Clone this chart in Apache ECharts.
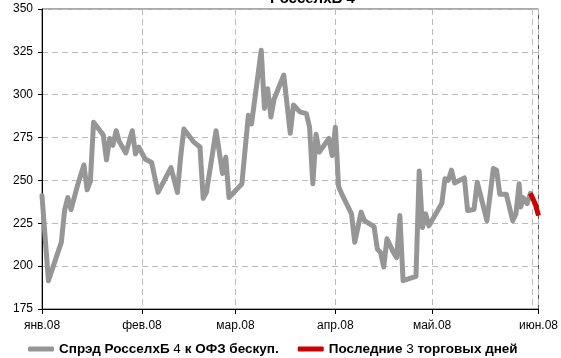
<!DOCTYPE html>
<html>
<head>
<meta charset="utf-8">
<script src="https://cdn.jsdelivr.net/npm/echarts@6/dist/echarts.min.js"></script>
<style>
html,body{margin:0;padding:0;background:#fff;}
#chart{width:561px;height:358px;}
</style>
</head>
<body>
<div id="chart"></div>
<script>
const titleText = 'РосселхБ 4';
const seriesNames = ['Спрэд РосселхБ 4 к ОФЗ бескуп.', 'Последние 3 торговых дней'];
const monthLabels = ['янв.08','фев.08','мар.08','апр.08','май.08','июн.08'];
const yTicks = [175, 200, 225, 250, 275, 300, 325, 350];

const spreadDates = [
'2008-01-01','2008-01-03','2008-01-07','2008-01-08','2008-01-09','2008-01-10','2008-01-12','2008-01-14','2008-01-15','2008-01-16',
'2008-01-17','2008-01-20','2008-01-21','2008-01-22','2008-01-23','2008-01-24','2008-01-25','2008-01-27','2008-01-29','2008-01-30',
'2008-01-31','2008-02-02','2008-02-04','2008-02-06','2008-02-10','2008-02-12','2008-02-13','2008-02-14','2008-02-17','2008-02-19',
'2008-02-20','2008-02-21','2008-02-24','2008-02-26','2008-02-27','2008-02-28','2008-03-03','2008-03-05','2008-03-06','2008-03-09',
'2008-03-10','2008-03-11','2008-03-12','2008-03-13','2008-03-16','2008-03-18','2008-03-19','2008-03-21','2008-03-23','2008-03-24',
'2008-03-25','2008-03-26','2008-03-27','2008-03-30','2008-03-31','2008-04-01','2008-04-02','2008-04-03','2008-04-06','2008-04-07',
'2008-04-09','2008-04-10','2008-04-13','2008-04-14','2008-04-15','2008-04-16','2008-04-17','2008-04-19','2008-04-20','2008-04-21',
'2008-04-22','2008-04-26','2008-04-27','2008-04-28','2008-04-29','2008-04-30','2008-05-04','2008-05-05','2008-05-06','2008-05-07',
'2008-05-08','2008-05-11','2008-05-12','2008-05-14','2008-05-15','2008-05-18','2008-05-20','2008-05-21','2008-05-22','2008-05-24',
'2008-05-26','2008-05-27','2008-05-28','2008-05-28 12:00','2008-05-29 06:00','2008-05-30 12:00','2008-05-31 12:00'
];
const spreadValues = [
241,191.5,214,232.5,240,233,247,259,244.5,249.5,
284,276.5,262,274.5,270.5,279,272.5,266,279,265.5,
269.5,262.5,260.5,243,257.5,243,263.5,280,272.5,269.5,
239.5,243,279,254,263.5,240,248,288,283,326,
292,303.5,287,297.5,311.5,277.5,294,290,289,281,
248,277,266.5,274.5,264.5,281,246.5,242,230.5,214,
231.5,226.5,223,210,208,199.5,216,208,205,229.5,
191.5,194,255.5,222.5,230.5,223.5,236.5,251,250,256,
248.5,251.5,232.5,233,249,226.5,257,256,242,242,
226.5,230.5,248,234.5,240,236.5,242.5
];
const lastDates = ['2008-05-31 12:00','2008-06-02','2008-06-03'];
const lastValues = [242.5, 236.3, 229.5];

const FONT = 'Liberation Sans, Arial, sans-serif';
const toPairs = (d, v) => d.map((x, i) => [x, v[i]]);

const chart = echarts.init(document.getElementById('chart'), null, {renderer: 'canvas'});
chart.setOption({
  animation: false,
  backgroundColor: '#fff',
  title: {
    text: titleText,
    left: 270,
    top: -9,
    padding: 0,
    textStyle: {fontFamily: FONT, fontSize: 15, fontWeight: 'bold', color: '#000'}
  },
  legend: {
    left: 28,
    top: 342,
    padding: 0,
    itemWidth: 26,
    itemHeight: 5,
    itemGap: 19,
    icon: 'roundRect',
    data: seriesNames,
    formatter: function (name) {
      if (name === seriesNames[0]) return '{b|Спрэд РосселхБ }{n|4}{b| к ОФЗ бескуп.}';
      return '{b|Последние }{n|3}{b| торговых дней}';
    },
    textStyle: {
      fontFamily: FONT, fontSize: 13.5, color: '#000',
      rich: {
        b: {fontFamily: FONT, fontSize: 13.5, fontWeight: 'bold', color: '#000'},
        n: {fontFamily: FONT, fontSize: 13.5, fontWeight: 'normal', color: '#000'}
      }
    }
  },
  grid: {
    left: 42, right: 12, top: 9, height: 300,
    show: true, borderColor: '#555', borderWidth: 1, backgroundColor: '#fff'
  },
  xAxis: {
    type: 'time',
    min: '2008-01-01',
    max: '2008-06-03',
    minInterval: 28 * 86400000,
    maxInterval: 31 * 86400000,
    axisLine: {show: true, lineStyle: {color: '#000', width: 1}},
    axisTick: {show: true, length: 5, lineStyle: {color: '#000'}},
    axisLabel: {
      show: true, margin: 11, color: '#000', fontFamily: FONT, fontSize: 12,
      showMinLabel: true, showMaxLabel: true, hideOverlap: false,
      formatter: function (val) { return monthLabels[new Date(val).getMonth()]; }
    },
    splitLine: {show: true, lineStyle: {color: '#BBBBBB', type: [6, 4], width: 1}}
  },
  yAxis: {
    type: 'value',
    min: yTicks[0],
    max: yTicks[yTicks.length - 1],
    interval: 25,
    axisLine: {show: true, lineStyle: {color: '#000', width: 1}},
    axisTick: {show: true, length: 4, lineStyle: {color: '#000'}},
    axisLabel: {color: '#000', fontFamily: FONT, fontSize: 12, margin: 9},
    splitLine: {show: true, lineStyle: {color: '#BBBBBB', type: [6, 4], width: 1}}
  },
  series: [
    {
      name: seriesNames[0],
      type: 'line',
      data: toPairs(spreadDates, spreadValues),
      showSymbol: false,
      symbol: 'none',
      color: '#969696',
      lineStyle: {color: '#969696', width: 5, cap: 'round', join: 'round'},
      z: 2
    },
    {
      name: seriesNames[1],
      type: 'line',
      data: toPairs(lastDates, lastValues),
      showSymbol: false,
      symbol: 'none',
      color: '#CC0000',
      lineStyle: {color: '#CC0000', width: 5, cap: 'butt', join: 'round'},
      z: 3
    }
  ]
});
</script>
</body>
</html>
